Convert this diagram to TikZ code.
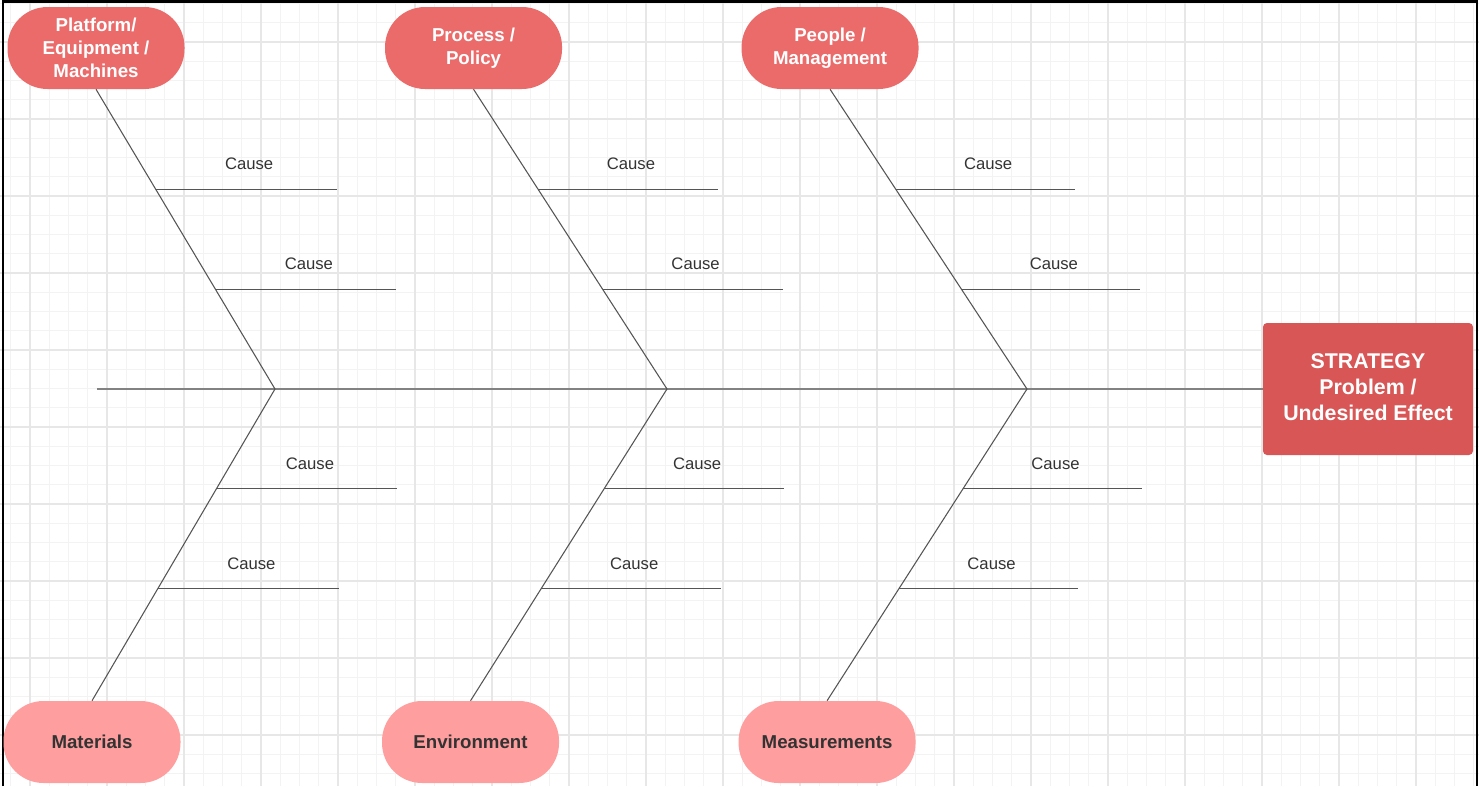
\documentclass[tikz,border=0pt]{standalone}
\usepackage{fontspec}
\setmainfont{Liberation Sans}
\usetikzlibrary{positioning, calc}

\definecolor{catTop}{RGB}{235,107,107}
\definecolor{catBot}{RGB}{255,158,158}
\definecolor{effRed}{RGB}{216,86,86}
\definecolor{txtDark}{RGB}{51,51,51}
\definecolor{boneGray}{RGB}{85,85,85}
\definecolor{spineGray}{RGB}{130,130,130}
\definecolor{gridMinor}{RGB}{243,243,243}
\definecolor{gridMajor}{RGB}{231,231,231}

\tikzset{
  catTopBox/.style={fill=catTop, rounded corners=30pt, minimum width=132.75pt, minimum height=61.5pt, inner sep=0pt,
    text=white, align=center, font=\fontsize{14}{17.25}\selectfont\bfseries},
  catBotBox/.style={catTopBox, fill=catBot, text=txtDark},
  effectBox/.style={fill=effRed, rounded corners=3pt, minimum width=157.5pt, minimum height=99pt, inner sep=0pt,
    text=white, align=center, font=\fontsize{16}{19.5}\selectfont\bfseries},
  spine/.style={draw=spineGray, line width=1.3pt},
  bone/.style={draw=boneGray, line width=0.8pt},
  causeLine/.style={draw=boneGray, line width=0.75pt},
  causeLbl/.style={font=\fontsize{12.5}{15}\selectfont, text=txtDark, yshift=18.75pt, xshift=2.25pt}
}

\begin{document}
\begin{tikzpicture}[x=0.75pt, y=-0.75pt]
    \useasboundingbox (0,0) rectangle (1479,786);
    \foreach \gx in {0,...,76} \draw[gridMinor, line width=0.75pt] ({10.75+19.25*\gx},0) -- ({10.75+19.25*\gx},786);
    \foreach \gy in {0,...,40} \draw[gridMinor, line width=0.75pt] (0,{3.5+19.25*\gy}) -- (1479,{3.5+19.25*\gy});
    \foreach \gx in {0,...,18} \draw[gridMajor, line width=0.9pt] ({30+77*\gx},0) -- ({30+77*\gx},786);
    \foreach \gy in {0,...,9} \draw[gridMajor, line width=0.9pt] (0,{42+77*\gy}) -- (1479,{42+77*\gy});
    \draw[black, line width=1.7pt] (3,786) -- (3,1.5) -- (1477,1.5) -- (1477,786);

    \node[catTopBox] (plat) at (96,48) {Platform/\\Equipment /\\Machines};
    \node[catTopBox, right=150pt of plat] (proc) {Process /\\Policy};
    \node[catTopBox, right=134.25pt of proc] (peop) {People /\\Management};
    \node[catBotBox] (matl) at (92,742) {Materials};
    \node[catBotBox, right=150.75pt of matl] (envr) {Environment};
    \node[catBotBox, right=134.25pt of envr] (meas) {Measurements};
    \node[effectBox] (eff) at (1368,389) {STRATEGY\\Problem /\\Undesired Effect\vphantom{g}};

    \coordinate (tail) at (97,389);
    \coordinate (J1) at (275,389);
    \coordinate (J2) at (667,389);
    \coordinate (J3) at (1027,389);
    \draw[spine] (tail) -- (J1) -- (J2) -- (J3) -- (eff.west);

    \draw[bone] (plat.south) -- (J1) -- (matl.north);
    \draw[bone] (proc.south) -- (J2) -- (envr.north);
    \draw[bone] (peop.south) -- (J3) -- (meas.north);

    \draw[causeLine] ($(plat.south)!0.333!(J1)$) coordinate (c1a) -- ++(181,0) coordinate (e1a) node[causeLbl, midway] {Cause};
    \draw[causeLine] ($(plat.south)!0.667!(J1)$) coordinate (c1b) -- ++(181,0) coordinate (e1b) node[causeLbl, midway] {Cause};
    \draw[causeLine] ($(J1)!0.32!(matl.north)$) coordinate (c1c) -- ++(181,0) coordinate (e1c) node[causeLbl, midway] {Cause};
    \draw[causeLine] ($(J1)!0.64!(matl.north)$) coordinate (c1d) -- ++(181,0) coordinate (e1d) node[causeLbl, midway] {Cause};

    \draw[causeLine] ($(proc.south)!0.333!(J2)$) coordinate (c2a) -- ++(180,0) coordinate (e2a) node[causeLbl, midway] {Cause};
    \draw[causeLine] ($(proc.south)!0.667!(J2)$) coordinate (c2b) -- ++(180,0) coordinate (e2b) node[causeLbl, midway] {Cause};
    \draw[causeLine] ($(J2)!0.32!(envr.north)$) coordinate (c2c) -- ++(180,0) coordinate (e2c) node[causeLbl, midway] {Cause};
    \draw[causeLine] ($(J2)!0.64!(envr.north)$) coordinate (c2d) -- ++(180,0) coordinate (e2d) node[causeLbl, midway] {Cause};

    \draw[causeLine] ($(peop.south)!0.333!(J3)$) coordinate (c3a) -- ++(179,0) coordinate (e3a) node[causeLbl, midway] {Cause};
    \draw[causeLine] ($(peop.south)!0.667!(J3)$) coordinate (c3b) -- ++(179,0) coordinate (e3b) node[causeLbl, midway] {Cause};
    \draw[causeLine] ($(J3)!0.32!(meas.north)$) coordinate (c3c) -- ++(179,0) coordinate (e3c) node[causeLbl, midway] {Cause};
    \draw[causeLine] ($(J3)!0.64!(meas.north)$) coordinate (c3d) -- ++(179,0) coordinate (e3d) node[causeLbl, midway] {Cause};
\end{tikzpicture}
\end{document}
